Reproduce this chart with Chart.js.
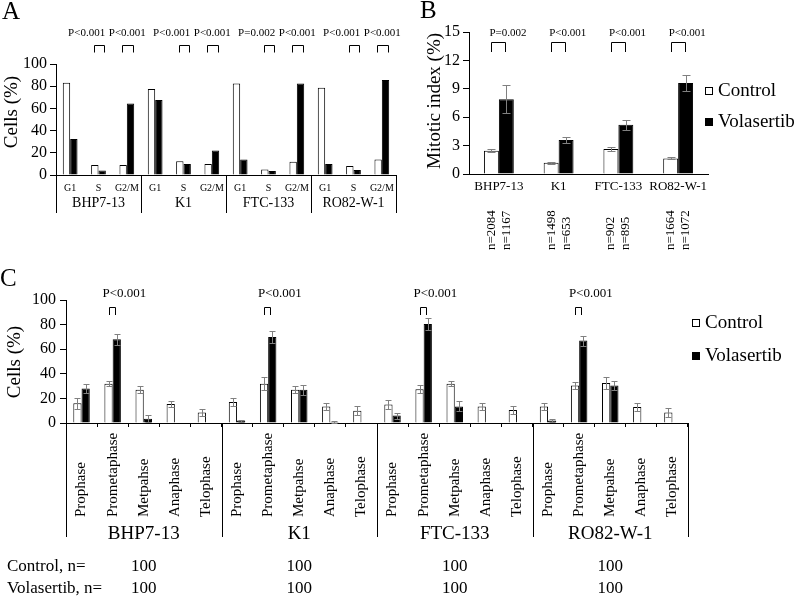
<!DOCTYPE html>
<html>
<head>
<meta charset="utf-8">
<script src="https://cdn.jsdelivr.net/npm/chart.js@4.4.1/dist/chart.umd.min.js"></script>
<style>
  body { margin: 0; background: #fff; }
  #wrap { position: relative; width: 800px; height: 598px; overflow: hidden; background: #fff; }
  canvas { position: absolute; left: 0; top: 0; }
</style>
</head>
<body>
<div id="wrap">
  <canvas id="chartA" width="800" height="598"></canvas>
  <canvas id="chartB" width="800" height="598"></canvas>
  <canvas id="chartC" width="800" height="598"></canvas>
</div>
<script>
/* global Chart */
const FONT = '"Liberation Serif", "Times New Roman", serif';
const ERRCOLOR = '#808080';

const cellLines = ['BHP7-13', 'K1', 'FTC-133', 'RO82-W-1'];

// panel A: cell cycle distribution
const aPhases = ['G1', 'S', 'G2/M'];
const aControl = [83, 9, 9, 77.5, 12.5, 10, 82.5, 5, 12, 78.5, 8, 14];
const aVolasertib = [32.5, 4, 64.5, 67.5, 10, 22, 14, 3.5, 82.5, 10, 4.5, 85.5];
const aPIndex = [1, 2, 4, 5, 7, 8, 10, 11];
const aPValues = ['P<0.001', 'P<0.001', 'P<0.001', 'P<0.001', 'P=0.002', 'P<0.001', 'P<0.001', 'P<0.001'];
const aTicks = [0, 20, 40, 60, 80, 100];

// panel B: mitotic index
const bControl = [2.45, 1.2, 2.65, 1.65];
const bControlErr = [0.15, 0.1, 0.2, 0.1];
const bVolasertib = [7.9, 3.6, 5.2, 9.6];
const bVolasertibErr = [1.5, 0.35, 0.55, 0.85];
const bPValues = ['P=0.002', 'P<0.001', 'P<0.001', 'P<0.001'];
const bNControl = [2084, 1498, 902, 1664];
const bNVolasertib = [1167, 653, 895, 1072];
const bTicks = [0, 3, 6, 9, 12, 15];

// panel C: mitotic phases
const cPhases = ['Prophase', 'Prometaphase', 'Metpahse', 'Anaphase', 'Telophase'];
const cControl = [16, 32, 27, 15.5, 8.5, 17, 32, 27, 13.5, 10, 15, 27.5, 32, 13.5, 10.5, 13.5, 30.5, 32.5, 13, 8.5];
const cControlErr = [4.5, 2, 3, 2.2, 2.5, 3, 5, 3, 2.7, 3.5, 3.5, 3.5, 2, 3, 3.5, 2.7, 3, 4.5, 3.5, 3.3];
const cVolasertib = [28, 68, 3.5, 0, 0, 2, 70, 27, 0.8, 0, 6, 80.5, 13.5, 0, 0, 2, 67, 30.5, 0, 0];
const cVolasertibErr = [4, 4.5, 3, 0, 0, 0.8, 5, 4, 1, 0, 2.5, 5, 4, 0, 0, 1, 4, 4, 0, 0];
const cPIndex = [1, 6, 11, 16];
const cPValues = ['P<0.001', 'P<0.001', 'P<0.001', 'P<0.001'];
const cNControl = [100, 100, 100, 100];
const cNVolasertib = [100, 100, 100, 100];
const cTicks = [0, 20, 40, 60, 80, 100];

Chart.defaults.font.family = FONT;
Chart.defaults.color = '#000';

function repeatLabels(inner, outer) {
  const out = [];
  outer.forEach(() => inner.forEach((p) => out.push(p)));
  return out;
}

function text(ctx, str, x, y, size, align, rotate) {
  ctx.save();
  ctx.font = `${size}px ${FONT}`;
  ctx.fillStyle = '#000';
  ctx.textAlign = align || 'center';
  ctx.textBaseline = 'middle';
  ctx.translate(x, y);
  if (rotate) ctx.rotate(-Math.PI / 2);
  ctx.fillText(str, 0, 0);
  ctx.restore();
}

function line(ctx, pts, color) {
  ctx.save();
  ctx.strokeStyle = color || '#000';
  ctx.lineWidth = 1;
  ctx.beginPath();
  pts.forEach(([x, y], i) => (i ? ctx.lineTo(x, y) : ctx.moveTo(x, y)));
  ctx.stroke();
  ctx.restore();
}

const crisp = (v) => Math.round(v) + 0.5;

function drawBracket(ctx, x1, x2, top, bottom) {
  line(ctx, [[crisp(x1), bottom], [crisp(x1), top], [crisp(x2), top], [crisp(x2), bottom]]);
}

function drawErrors(chart, capW) {
  const ctx = chart.ctx;
  const y = chart.scales.y;
  chart.data.datasets.forEach((ds, di) => {
    if (!ds.errors) return;
    chart.getDatasetMeta(di).data.forEach((bar, i) => {
      const e = ds.errors[i];
      if (!e) return;
      const v = ds.data[i];
      const top = crisp(y.getPixelForValue(v + e));
      const bot = crisp(y.getPixelForValue(Math.max(0, v - e)));
      const x = crisp(bar.x);
      line(ctx, [[x, top], [x, bot]], ERRCOLOR);
      line(ctx, [[x - capW / 2, top], [x + capW / 2, top]], ERRCOLOR);
      line(ctx, [[x - capW / 2, bot], [x + capW / 2, bot]], ERRCOLOR);
    });
  });
}

function groupCenter(chart, g, perGroup) {
  const x = chart.scales.x;
  return (x.getPixelForValue(g * perGroup) + x.getPixelForValue(g * perGroup + perGroup - 1)) / 2;
}

function drawGroups(chart, groups, perGroup, lineBottom, labelY, size) {
  const x = chart.scales.x;
  const area = chart.chartArea;
  const half = (x.getPixelForValue(1) - x.getPixelForValue(0)) / 2;
  for (let g = 0; g <= groups.length; g++) {
    const px = crisp(x.getPixelForValue(g * perGroup) - half);
    line(chart.ctx, [[px, area.bottom], [px, lineBottom]]);
  }
  groups.forEach((name, g) => text(chart.ctx, name, groupCenter(chart, g, perGroup), labelY, size));
}

function drawLegend(chart, x, y0, gap, size) {
  const ctx = chart.ctx;
  chart.data.datasets.forEach((ds, i) => {
    const y = Math.round(y0 + i * gap);
    ctx.save();
    ctx.fillStyle = ds.backgroundColor;
    ctx.strokeStyle = '#000';
    ctx.lineWidth = 1;
    ctx.fillRect(x + 0.5, y - 3.5, 7, 7);
    ctx.strokeRect(x + 0.5, y - 3.5, 7, 7);
    ctx.restore();
    text(ctx, ds.label, x + 13, y, size, 'left');
  });
}

function barSets(control, volasertib, pct, controlErr, volasertibErr) {
  return [{
    label: 'Control',
    data: control,
    errors: controlErr,
    backgroundColor: '#fff',
    borderColor: '#000',
    borderWidth: 1,
    categoryPercentage: pct,
    barPercentage: 1,
  }, {
    label: 'Volasertib',
    data: volasertib,
    errors: volasertibErr,
    backgroundColor: '#000',
    borderColor: '#000',
    borderWidth: 1,
    categoryPercentage: pct,
    barPercentage: 1,
  }];
}

function yScale(ticks, size, pad, width) {
  return {
    min: ticks[0],
    max: ticks[ticks.length - 1],
    afterBuildTicks: (s) => { s.ticks = ticks.map((v) => ({ value: v })); },
    ticks: { font: { size }, padding: pad },
    grid: { drawOnChartArea: false, color: '#000', tickLength: 6 },
    border: { color: '#000' },
    afterFit: (s) => { s.width = width; },
  };
}

function baseOptions(padding, scales) {
  return {
    responsive: false,
    animation: false,
    devicePixelRatio: 1,
    layout: { padding },
    plugins: { legend: { display: false }, tooltip: { enabled: false } },
    scales,
  };
}

const panelA = {
  id: 'panelA',
  afterDraw(chart) {
    const ctx = chart.ctx;
    const mc = chart.getDatasetMeta(0);
    const mv = chart.getDatasetMeta(1);
    aPIndex.forEach((idx, k) => {
      const x1 = mc.data[idx].x - 1;
      const x2 = mv.data[idx].x + 2;
      drawBracket(ctx, x1, x2, 45.5, 52.5);
      if (idx % aPhases.length === 1) text(ctx, aPValues[k], x2 + 1, 33, 11, 'right');
      else text(ctx, aPValues[k], (x1 + x2) / 2, 33, 11);
    });
    drawGroups(chart, cellLines, aPhases.length, 213, 203, 14);
    text(ctx, 'Cells (%)', 12, 112, 19, 'center', true);
    text(ctx, 'A', 2, 12, 25, 'left');
  },
};

const panelB = {
  id: 'panelB',
  afterDraw(chart) {
    const ctx = chart.ctx;
    const mc = chart.getDatasetMeta(0);
    const mv = chart.getDatasetMeta(1);
    drawErrors(chart, 8);
    cellLines.forEach((name, i) => {
      const x1 = mc.data[i].x;
      const x2 = mv.data[i].x - 1;
      drawBracket(ctx, x1, x2, 42.5, 52);
      text(ctx, bPValues[i], x1 - 2, 33, 11, 'left');
      text(ctx, `n=${bNControl[i]}`, mc.data[i].x, 250, 13, 'left', true);
      text(ctx, `n=${bNVolasertib[i]}`, mv.data[i].x, 250, 13, 'left', true);
    });
    drawLegend(chart, 705, 91, 31, 19);
    text(ctx, 'Mitotic index (%)', 435, 101, 19, 'center', true);
    text(ctx, 'B', 420, 11, 25, 'left');
  },
};

const panelC = {
  id: 'panelC',
  afterDraw(chart) {
    const ctx = chart.ctx;
    const x = chart.scales.x;
    const mc = chart.getDatasetMeta(0);
    const mv = chart.getDatasetMeta(1);
    drawErrors(chart, 6);
    cPIndex.forEach((idx, k) => {
      const x1 = mc.data[idx].x;
      const x2 = mv.data[idx].x - 2;
      drawBracket(ctx, x1, x2, 307.5, 315);
      text(ctx, cPValues[k], x1 - 6, 294, 13, 'left');
    });
    chart.data.labels.forEach((lab, i) => text(ctx, lab, x.getPixelForValue(i), 517, 15, 'left', true));
    drawGroups(chart, cellLines, cPhases.length, 537, 534, 19);
    drawLegend(chart, 692, 323, 33, 19);
    text(ctx, 'Cells (%)', 15, 362, 19, 'center', true);
    text(ctx, 'C', 0, 279, 25, 'left');
    text(ctx, 'Control, n=', 7, 567, 17, 'left');
    text(ctx, 'Volasertib, n=', 7, 589, 17, 'left');
    cellLines.forEach((name, g) => {
      const cx = groupCenter(chart, g, cPhases.length);
      text(ctx, String(cNControl[g]), cx, 567, 17);
      text(ctx, String(cNVolasertib[g]), cx, 589, 17);
    });
  },
};

new Chart(document.getElementById('chartA'), {
  type: 'bar',
  data: { labels: repeatLabels(aPhases, cellLines), datasets: barSets(aControl, aVolasertib, 0.52) },
  options: baseOptions({ left: 0, top: 64, right: 404, bottom: 0 }, {
    x: {
      grid: { display: false, drawTicks: false },
      border: { display: true, color: '#000' },
      ticks: { font: { size: 10 }, padding: 7, maxRotation: 0, autoSkip: false },
      afterFit: (s) => { s.height = 598 - 175; },
    },
    y: yScale(aTicks, 16, 3, 56),
  }),
  plugins: [panelA],
});

new Chart(document.getElementById('chartB'), {
  type: 'bar',
  data: { labels: cellLines, datasets: barSets(bControl, bVolasertib, 0.5, bControlErr, bVolasertibErr) },
  options: baseOptions({ left: 420, top: 32, right: 92, bottom: 0 }, {
    x: {
      grid: { display: false, drawTicks: false },
      border: { display: true, color: '#000' },
      ticks: { font: { size: 13 }, padding: 5, maxRotation: 0, autoSkip: false },
      afterFit: (s) => { s.height = 598 - 174; },
    },
    y: yScale(bTicks, 16, 3, 49),
  }),
  plugins: [panelB],
});

new Chart(document.getElementById('chartC'), {
  type: 'bar',
  data: { labels: repeatLabels(cPhases, cellLines), datasets: barSets(cControl, cVolasertib, 0.53, cControlErr, cVolasertibErr) },
  options: baseOptions({ left: 0, top: 300, right: 112, bottom: 0 }, {
    x: {
      grid: { display: true, drawOnChartArea: false, color: '#000', tickLength: 4, offset: true },
      border: { display: true, color: '#000' },
      ticks: { display: false, autoSkip: false },
      afterFit: (s) => { s.height = 598 - 423; },
    },
    y: yScale(cTicks, 16, 4, 66),
  }),
  plugins: [panelC],
});
</script>
</body>
</html>
